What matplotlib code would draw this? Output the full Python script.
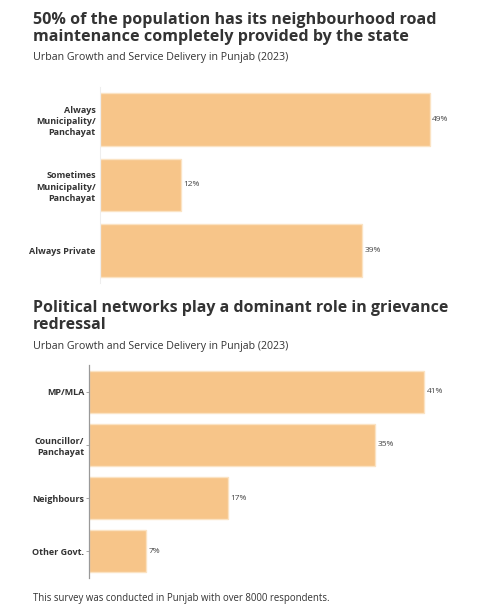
import matplotlib
matplotlib.use("Agg")
import matplotlib.pyplot as plt

plt.rcParams['font.family'] = ['Open Sans', 'DejaVu Sans']

# Data
cats1 = ["Always\nMunicipality/\nPanchayat", "Sometimes\nMunicipality/\nPanchayat", "Always Private"]
vals1 = [49, 12, 39]
cats2 = ["MP/MLA", "Councillor/\nPanchayat", "Neighbours", "Other Govt."]
vals2 = [41, 35, 17, 7]

title1 = "50% of the population has its neighbourhood road\nmaintenance completely provided by the state"
title2 = "Political networks play a dominant role in grievance\nredressal"
subtitle = "Urban Growth and Service Delivery in Punjab (2023)"
footer = "This survey was conducted in Punjab with over 8000 respondents."

W, H = 481, 611
fig = plt.figure(figsize=(W/100, H/100), dpi=100)
fig.patch.set_facecolor('white')

bar_color = '#F7C589'
edge_color = '#FBE3C3'
dark = '#333333'

def px(x, y):
    return x / W, 1 - y / H

def add_axes(x0, y0, x1, y1):
    return fig.add_axes([x0 / W, 1 - y1 / H, (x1 - x0) / W, (y1 - y0) / H])

# Chart 1
ax1 = add_axes(100, 87, 470, 283)
ax1.barh(range(len(vals1)), vals1, height=0.81, color=bar_color, edgecolor=edge_color, linewidth=1)
ax1.set_ylim(len(vals1) - 0.5, -0.5)
ax1.set_xlim(0, (470 - 100) / 6.73)
for s in ['top', 'right', 'bottom']:
    ax1.spines[s].set_visible(False)
ax1.spines['left'].set_color('#eeeeee')
ax1.spines['left'].set_linewidth(0.8)
ax1.set_xticks([])
ax1.set_yticks(range(len(vals1)))
ax1.set_yticklabels(cats1, fontsize=6.5, fontweight='bold', color=dark, linespacing=1.3)
ax1.tick_params(axis='y', length=0, pad=3)
for i, v in enumerate(vals1):
    ax1.text(v + 0.35, i, f"{v}%", va='center', ha='left', fontsize=6, color='#444444')

# Chart 2
ax2 = add_axes(89, 365, 470, 578)
ax2.barh(range(len(vals2)), vals2, height=0.79, color=bar_color, edgecolor=edge_color, linewidth=1)
ax2.set_ylim(len(vals2) - 0.5, -0.5)
ax2.set_xlim(0, (470 - 89) / 8.17)
for s in ['top', 'right', 'bottom']:
    ax2.spines[s].set_visible(False)
ax2.spines['left'].set_color('#999999')
ax2.spines['left'].set_linewidth(0.9)
ax2.set_xticks([])
ax2.set_yticks(range(len(vals2)))
ax2.set_yticklabels(cats2, fontsize=6.5, fontweight='bold', color=dark, linespacing=1.3)
ax2.tick_params(axis='y', length=2.5, width=0.6, color='#999999', pad=1)
for i, v in enumerate(vals2):
    ax2.text(v + 0.35, i, f"{v}%", va='center', ha='left', fontsize=6, color='#444444')

# Titles
x, y = px(33, 12)
fig.text(x, y, title1, ha='left', va='top', fontsize=11.6, fontweight='bold', color=dark, linespacing=1.08)
x, y = px(33, 52)
fig.text(x, y, subtitle, ha='left', va='top', fontsize=7.7, color=dark)
x, y = px(33, 300)
fig.text(x, y, title2, ha='left', va='top', fontsize=11.5, fontweight='bold', color=dark, linespacing=1.08)
x, y = px(33, 341)
fig.text(x, y, subtitle, ha='left', va='top', fontsize=7.7, color=dark)
x, y = px(33, 593)
fig.text(x, y, footer, ha='left', va='top', fontsize=6.9, color=dark)

fig.savefig('out.png', dpi=100, facecolor='white')
